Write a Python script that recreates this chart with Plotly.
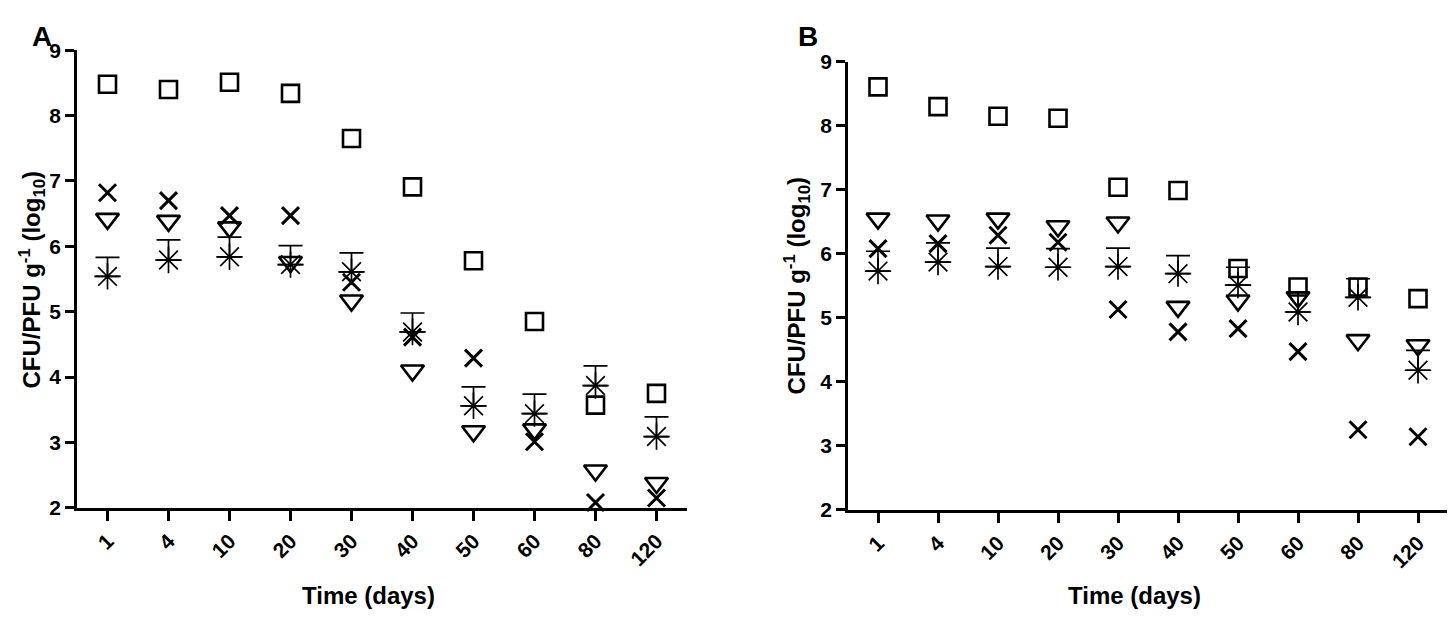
import plotly.graph_objects as go

days = ["1", "4", "10", "20", "30", "40", "50", "60", "80", "120"]

# Panel A
a_square = [8.48, 8.40, 8.51, 8.34, 7.65, 6.91, 5.78, 4.85, 3.57, 3.75]
a_cross = [6.82, 6.70, 6.47, 6.47, 5.45, 4.61, 4.29, 3.01, 2.08, 2.15]
a_tri = [6.42, 6.39, 6.29, 5.76, 5.17, 4.10, 3.17, 3.20, 2.57, 2.38]
a_star = [5.54, 5.79, 5.84, 5.72, 5.61, 4.69, 3.56, 3.44, 3.87, 3.09]
a_star_err = [0.29, 0.31, 0.30, 0.29, 0.29, 0.29, 0.29, 0.30, 0.30, 0.30]

# Panel B
b_square = [8.61, 8.30, 8.15, 8.12, 7.04, 6.99, 5.77, 5.48, 5.48, 5.30]
b_cross = [6.08, 6.16, 6.29, 6.18, 5.13, 4.78, 4.83, 4.47, 3.25, 3.14]
b_tri = [6.55, 6.52, 6.55, 6.43, 6.49, 5.17, 5.27, 5.32, 4.65, 4.57]
b_star = [5.73, 5.87, 5.80, 5.79, 5.80, 5.69, 5.51, 5.09, 5.32, 4.18]
b_star_err = [0.31, 0.30, 0.29, 0.29, 0.29, 0.28, 0.28, 0.30, 0.29, 0.31]

y_ticks = [2, 3, 4, 5, 6, 7, 8, 9]

W, H = 1455, 619
FONT = "Liberation Sans, Arial, sans-serif"


def px_x(p):
    return p / W


def px_y(p):
    return (H - p) / H


fig = go.Figure()


def add_panel(xa, ya, sq, cr, tri, st, st_err):
    common = dict(x=days, mode="markers", xaxis=xa, yaxis=ya, cliponaxis=False,
                  showlegend=False, hoverinfo="x+y")
    fig.add_trace(go.Scatter(y=sq, marker=dict(symbol="square-open", size=17, color="black",
                                               line=dict(width=2.6, color="black")), **common))
    fig.add_trace(go.Scatter(y=cr, marker=dict(symbol="x-thin-open", size=17, color="black",
                                               line=dict(width=3, color="black")), **common))
    fig.add_trace(go.Scatter(y=tri, marker=dict(symbol="triangle-down-open", size=20, color="black",
                                                line=dict(width=2.6, color="black")), **common))
    fig.add_trace(go.Scatter(y=st, marker=dict(symbol="asterisk-open", size=22, color="black",
                                               line=dict(width=1.7, color="black")),
                             error_y=dict(type="data", symmetric=False, array=st_err,
                                          arrayminus=[0] * len(st_err), width=12,
                                          thickness=1.7, color="black"),
                             **common))


add_panel("x", "y", a_square, a_cross, a_tri, a_star, a_star_err)
add_panel("x2", "y2", b_square, b_cross, b_tri, b_star, b_star_err)

xax = dict(type="category", range=[-0.5, 9.5], showgrid=False, zeroline=False,
           showline=True, linecolor="black", linewidth=2.6, ticks="outside", ticklen=10,
           tickwidth=2.6, tickcolor="black", tickangle=-45,
           tickfont=dict(family=FONT, size=21, color="black", weight="bold"))
yax = dict(range=[2, 9], tickvals=y_ticks, showgrid=False, zeroline=False,
           showline=True, linecolor="black", linewidth=2.6, ticks="outside", ticklen=9,
           tickwidth=2.6, tickcolor="black",
           tickfont=dict(family=FONT, size=21, color="black", weight="bold"))

fig.update_layout(
    width=W, height=H, margin=dict(l=0, r=0, t=0, b=0),
    paper_bgcolor="white", plot_bgcolor="white",
    xaxis=dict(domain=[px_x(69), px_x(679)], anchor="y", **xax),
    yaxis=dict(domain=[px_y(506.6), px_y(31.4)], anchor="x", **yax),
    xaxis2=dict(domain=[px_x(840), px_x(1440)], anchor="y2", **xax),
    yaxis2=dict(domain=[px_y(508.6), px_y(43.5)], anchor="x2", **yax),
)

title_font = dict(family=FONT, size=24, color="black", weight="bold")
letter_font = dict(family=FONT, size=28, color="black", weight="bold")
ytitle = "CFU/PFU g<sup>-1</sup> (log<sub>10</sub>)"
annots = [
    dict(text="A", x=px_x(34), y=1.0, yanchor="top", font=letter_font),
    dict(text="B", x=px_x(800), y=1.0, yanchor="top", font=letter_font),
    dict(text="Time (days)", x=px_x(360), y=px_y(597.5), yanchor="middle", font=title_font),
    dict(text="Time (days)", x=px_x(1126), y=px_y(597.5), yanchor="middle", font=title_font),
    dict(text=ytitle, x=px_x(24), y=px_y(269.5), yanchor="middle", textangle=-90, font=title_font),
    dict(text=ytitle, x=px_x(789), y=px_y(275.7), yanchor="middle", textangle=-90, font=title_font),
]
for a in annots:
    fig.add_annotation(xref="paper", yref="paper", xanchor="center",
                       showarrow=False, borderpad=0, **a)

fig.write_html("out.html")
